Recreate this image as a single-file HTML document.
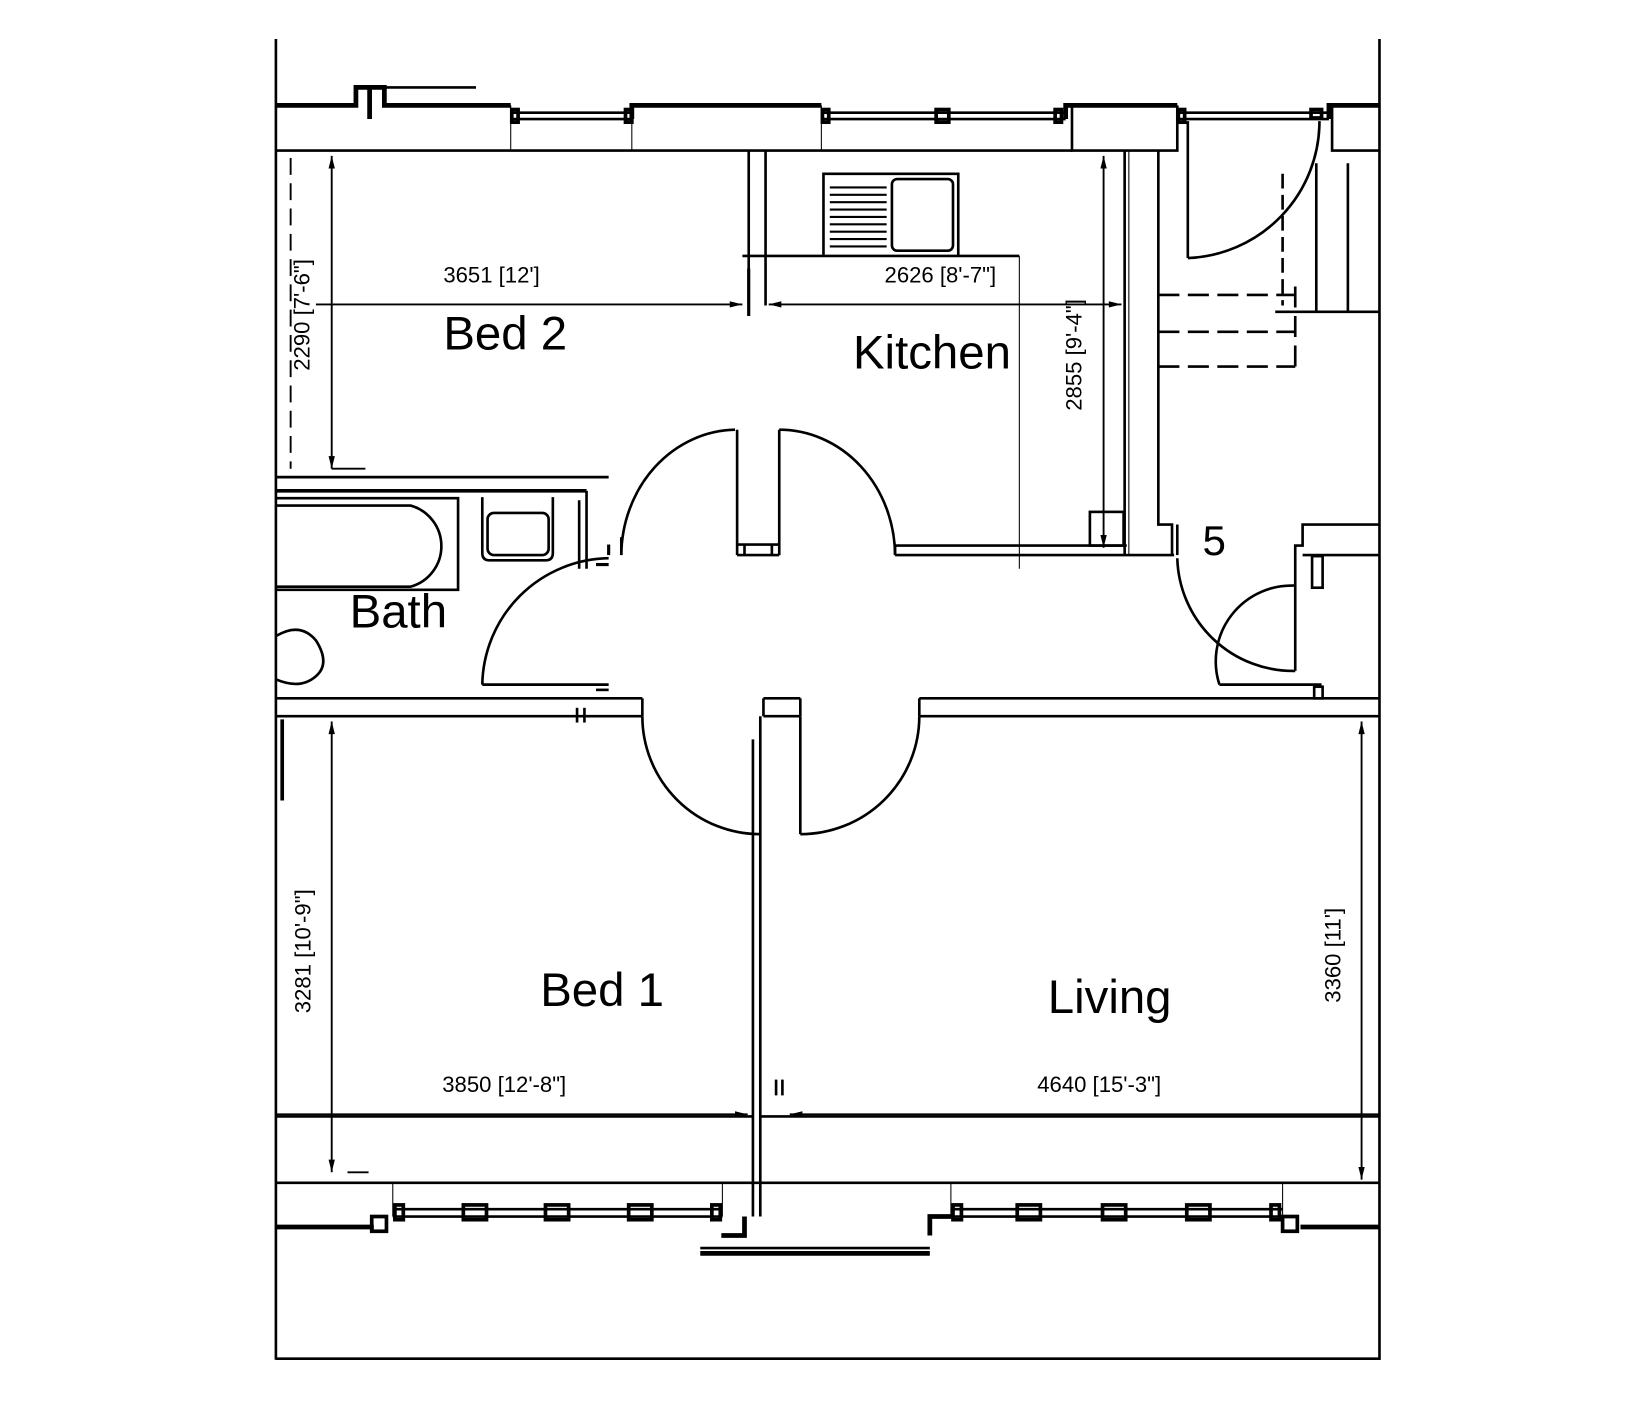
<!DOCTYPE html>
<html><head><meta charset="utf-8"><style>
html,body{margin:0;padding:0;background:#fff;}
svg{display:block;}
text{font-family:"Liberation Sans",Arial,sans-serif;fill:#000;}
</style></head><body>
<svg width="1648" height="1404" viewBox="0 0 1565 1333" preserveAspectRatio="none" xmlns="http://www.w3.org/2000/svg">
<g fill="none" stroke="#000" stroke-width="2.5">
<line x1="262" y1="37" x2="262" y2="1291"/>
<line x1="1310" y1="37" x2="1310" y2="1291"/>
<line x1="262" y1="1290" x2="1311" y2="1290"/>
<g stroke-width="4.5">
<polyline points="262,100 338,100 338,83 365,83 365,100 485,100"/>
<line x1="351" y1="83" x2="351" y2="113"/>
<polyline points="600,113 600,100 780,100"/>
<polyline points="1012,113 1012,100 1118,100"/>
<polyline points="1262,113 1262,100 1310,100"/>
</g>
<line x1="365" y1="83" x2="452" y2="83"/>
<line x1="485" y1="100" x2="485" y2="143" stroke-width="1"/>
<line x1="485" y1="107" x2="600" y2="107"/><line x1="485" y1="113" x2="600" y2="113"/>
<line x1="780" y1="107" x2="1012" y2="107"/><line x1="780" y1="113" x2="1012" y2="113"/>
<line x1="1118" y1="107" x2="1262" y2="107"/><line x1="1118" y1="113" x2="1262" y2="113"/>
<line x1="600" y1="100" x2="600" y2="143" stroke-width="1"/>
<line x1="780" y1="100" x2="780" y2="143" stroke-width="1"/>
<polyline points="1018,100 1018,143 1118,143 1118,100"/>
<polyline points="1265,100 1265,143 1310,143"/>
<g stroke-width="3.5">
<rect x="486" y="104" width="6" height="12"/>
<rect x="594" y="104" width="6" height="12"/>
<rect x="781" y="104" width="6" height="12"/>
<rect x="889" y="104" width="12" height="12"/>
<rect x="1002" y="104" width="6" height="12"/>
<rect x="1119" y="104" width="6" height="12"/>
<rect x="1245" y="104" width="10" height="8"/>
</g>
<line x1="262" y1="143" x2="1018" y2="143"/>
<line x1="711" y1="143" x2="711" y2="290"/>
<line x1="727" y1="143" x2="727" y2="290"/>
<line x1="711" y1="255" x2="711" y2="300" stroke-width="3"/>
<line x1="700" y1="408" x2="700" y2="527"/>
<line x1="740" y1="408" x2="740" y2="527"/>
<line x1="700" y1="517" x2="740" y2="517"/>
<line x1="700" y1="527" x2="740" y2="527"/>
<line x1="707" y1="517" x2="707" y2="527"/><line x1="733" y1="517" x2="733" y2="527"/>
<polyline points="782,242 782,165 910,165 910,242"/>
<line x1="705" y1="243" x2="968" y2="243"/>
<line x1="968" y1="243" x2="968" y2="540" stroke-width="1"/>
<rect x="847" y="170" width="58" height="68" rx="5"/>
<g stroke-width="2">
<line x1="788" y1="178" x2="842" y2="178"/><line x1="788" y1="185" x2="842" y2="185"/>
<line x1="788" y1="192" x2="842" y2="192"/><line x1="788" y1="199" x2="842" y2="199"/>
<line x1="788" y1="206" x2="842" y2="206"/><line x1="788" y1="213" x2="842" y2="213"/>
<line x1="788" y1="220" x2="842" y2="220"/><line x1="788" y1="227" x2="842" y2="227"/>
<line x1="788" y1="234" x2="842" y2="234"/>
</g>
<line x1="850" y1="518" x2="1070" y2="518"/>
<line x1="850" y1="527" x2="1115" y2="527"/>
<line x1="1068" y1="143" x2="1068" y2="527"/>
<line x1="1072" y1="143" x2="1072" y2="527" stroke-width="1"/>
<polyline points="1100,143 1100,498 1113,498 1113,527"/>
<rect x="1035" y="486" width="32" height="32"/>
<line x1="1128" y1="115" x2="1128" y2="245"/>
<path d="M1128,245 A130,130 0 0 0 1253,115"/>
<line x1="1218" y1="165" x2="1218" y2="290" stroke-dasharray="14,6"/>
<line x1="1250" y1="155" x2="1250" y2="296"/>
<line x1="1280" y1="155" x2="1280" y2="296"/>
<line x1="1211" y1="296" x2="1310" y2="296"/>
<g stroke-dasharray="20,8">
<line x1="1100" y1="280" x2="1230" y2="280"/>
<line x1="1100" y1="315" x2="1230" y2="315"/>
<line x1="1100" y1="348" x2="1230" y2="348"/>
<line x1="1230" y1="272" x2="1230" y2="348"/>
</g>
<polyline points="1118,498 1118,527"/>
<path d="M1118,530 A110,110 0 0 0 1230,637"/>
<polyline points="1230,637 1230,518 1237,518 1237,498 1310,498"/>
<line x1="1237" y1="527" x2="1310" y2="527"/>
<rect x="1246" y="528" width="10" height="30"/>
<path d="M1230,556 A72,72 0 0 0 1158,650"/>
<line x1="1158" y1="650" x2="1255" y2="650"/>
<rect x="1248" y="652" width="8" height="11"/>
<line x1="262" y1="453" x2="578" y2="453"/>
<line x1="262" y1="466" x2="557" y2="466" stroke-width="3.5"/>
<line x1="557" y1="466" x2="557" y2="540"/>
<line x1="550" y1="475" x2="550" y2="540"/>
<polyline points="262,473 435,473 435,560 262,560"/>
<path d="M262,480 L390,480 A40,40 0 0 1 390,557 L262,557"/>
<path d="M458,472 L458,525 Q458,532 465,532 L518,532 Q525,532 525,525 L525,472"/>
<rect x="463" y="487" width="58" height="40" rx="6"/>
<path d="M262,604 Q285,590 300,608 Q314,630 300,642 Q285,655 262,645"/>
<line x1="578" y1="517" x2="578" y2="527" stroke-width="3"/>
<path d="M458,650 A122,122 0 0 1 578,530"/>
<line x1="458" y1="650" x2="578" y2="650"/>
<line x1="566" y1="655" x2="578" y2="655"/>
<line x1="566" y1="536" x2="578" y2="536" stroke-width="3"/>
<path d="M590,527 A110,120 0 0 1 698,408"/>
<line x1="590" y1="510" x2="590" y2="527"/>
<path d="M740,408 A110,120 0 0 1 850,527"/>
<line x1="850" y1="518" x2="850" y2="527"/>
<line x1="262" y1="663" x2="610" y2="663"/>
<line x1="262" y1="680" x2="610" y2="680"/>
<line x1="610" y1="663" x2="610" y2="680"/>
<line x1="548" y1="672" x2="548" y2="686"/><line x1="555" y1="672" x2="555" y2="686"/>
<path d="M610,680 A112,112 0 0 0 722,792"/>
<line x1="725" y1="663" x2="760" y2="663"/>
<line x1="725" y1="680" x2="760" y2="680"/>
<line x1="725" y1="663" x2="725" y2="680"/><line x1="760" y1="663" x2="760" y2="680"/>
<path d="M873,680 A113,112 0 0 1 760,792"/>
<line x1="760" y1="680" x2="760" y2="792"/>
<line x1="873" y1="663" x2="1310" y2="663"/>
<line x1="873" y1="680" x2="1310" y2="680"/>
<line x1="873" y1="663" x2="873" y2="680"/>
<line x1="268" y1="683" x2="268" y2="760" stroke-width="3.5"/>
<line x1="715" y1="702" x2="715" y2="1155"/>
<line x1="722" y1="680" x2="722" y2="1155"/>
<line x1="737" y1="1025" x2="737" y2="1040"/><line x1="743" y1="1025" x2="743" y2="1040"/>
<line x1="262" y1="1060" x2="715" y2="1060"/>
<line x1="722" y1="1060" x2="1310" y2="1060"/>
<line x1="262" y1="1123" x2="1310" y2="1123"/>
<g stroke-width="4.5">
<line x1="262" y1="1165" x2="355" y2="1165"/>
<line x1="1235" y1="1165" x2="1310" y2="1165"/>
<line x1="665" y1="1190" x2="883" y2="1190"/>
<polyline points="685,1173 707,1173 707,1155"/>
<polyline points="883,1173 883,1155 905,1155"/>
</g>
<line x1="665" y1="1185" x2="883" y2="1185"/>
<line x1="373" y1="1123" x2="373" y2="1155" stroke-width="1"/>
<line x1="686" y1="1123" x2="686" y2="1155" stroke-width="1"/>
<line x1="903" y1="1123" x2="903" y2="1155" stroke-width="1"/>
<line x1="1218" y1="1123" x2="1218" y2="1155" stroke-width="1"/>
<line x1="373" y1="1148" x2="686" y2="1148"/><line x1="373" y1="1155" x2="686" y2="1155"/>
<line x1="903" y1="1148" x2="1218" y2="1148"/><line x1="903" y1="1155" x2="1218" y2="1155"/>
<g stroke-width="3.5">
<rect x="353" y="1155" width="14" height="14"/>
<rect x="1218" y="1155" width="14" height="14"/>
<rect x="375" y="1144" width="8" height="14"/>
<rect x="440" y="1144" width="22" height="14"/>
<rect x="518" y="1144" width="22" height="14"/>
<rect x="597" y="1144" width="22" height="14"/>
<rect x="676" y="1144" width="8" height="14"/>
<rect x="905" y="1144" width="8" height="14"/>
<rect x="966" y="1144" width="22" height="14"/>
<rect x="1047" y="1144" width="22" height="14"/>
<rect x="1127" y="1144" width="22" height="14"/>
<rect x="1207" y="1144" width="8" height="14"/>
</g>
<g stroke-width="1.8">
<line x1="276" y1="150" x2="276" y2="445" stroke-dasharray="16,8"/>
<line x1="315" y1="148" x2="315" y2="445"/>
<line x1="315" y1="445" x2="347" y2="445"/>
<line x1="300" y1="289" x2="705" y2="289"/>
<line x1="730" y1="289" x2="1065" y2="289"/>
<line x1="1048" y1="148" x2="1048" y2="520"/>
<line x1="315" y1="685" x2="315" y2="1113"/>
<line x1="330" y1="1113" x2="350" y2="1113"/>
<line x1="1293" y1="685" x2="1293" y2="1120"/>
<line x1="262" y1="1058" x2="710" y2="1058"/>
<line x1="750" y1="1058" x2="1310" y2="1058"/>
</g>
</g>
<g fill="#000">
<polygon points="705,289 693,286 693,292"/>
<polygon points="730,289 742,286 742,292"/>
<polygon points="315,148 312,160 318,160"/>
<polygon points="315,445 312,433 318,433"/>
<polygon points="1048,148 1045,160 1051,160"/>
<polygon points="1048,520 1045,508 1051,508"/>
<polygon points="1065,289 1053,286 1053,292"/>
<polygon points="315,685 312,697 318,697"/>
<polygon points="315,1113 312,1101 318,1101"/>
<polygon points="1293,685 1290,697 1296,697"/>
<polygon points="1293,1120 1290,1108 1296,1108"/>
<polygon points="710,1058 698,1055 698,1061"/>
<polygon points="750,1058 762,1055 762,1061"/>
</g>
<text x="421" y="332" font-size="45">Bed 2</text>
<text x="810" y="350" font-size="45">Kitchen</text>
<text x="332" y="596" font-size="45">Bath</text>
<text x="1142" y="527" font-size="40">5</text>
<text x="513" y="955" font-size="45">Bed 1</text>
<text x="995" y="962" font-size="45">Living</text>
<text x="421" y="268" font-size="21">3651 [12']</text>
<text x="840" y="268" font-size="21">2626 [8'-7"]</text>
<text x="420" y="1037" font-size="21">3850 [12'-8"]</text>
<text x="985" y="1037" font-size="21">4640 [15'-3"]</text>
<text font-size="21" transform="translate(294,352) rotate(-90)">2290 [7'-6"]</text>
<text font-size="21" transform="translate(1027,390) rotate(-90)">2855 [9'-4"]</text>
<text font-size="21" transform="translate(295,962) rotate(-90)">3281 [10'-9"]</text>
<text font-size="21" transform="translate(1273,952) rotate(-90)">3360 [11']</text>
</svg>
</body></html>
